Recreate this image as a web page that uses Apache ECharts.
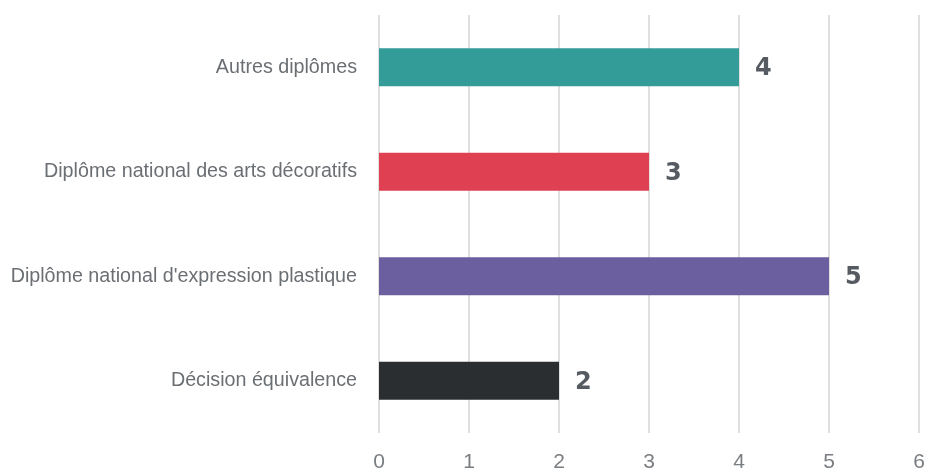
<!DOCTYPE html>
<html>
<head>
<meta charset="utf-8">
<script src="https://cdn.jsdelivr.net/npm/echarts@6/dist/echarts.min.js"></script>
<style>
  html, body { margin: 0; padding: 0; background: #fff; }
  #main { width: 930px; height: 474px; }
</style>
</head>
<body>
<div id="main"></div>
<script>
// categories, bottom to top (as echarts draws a category y axis)
var categories = [
  "Décision équivalence",
  "Diplôme national d'expression plastique",
  "Diplôme national des arts décoratifs",
  "Autres diplômes"
];
var values = [2, 5, 3, 4];
var barColors = ["#2b2e31", "#6b5fa0", "#df4153", "#339c98"];

var myChart = echarts.init(document.getElementById("main"));
var option = {
  animation: false,
  grid: { left: 379, right: 11, top: 15, bottom: 41 },
  xAxis: {
    type: "value",
    min: 0,
    max: 6,
    interval: 1,
    axisLine: { show: false },
    axisTick: { show: false },
    axisLabel: {
      color: "#7a7e82",
      fontFamily: "Liberation Sans",
      fontSize: 21,
      margin: 19
    },
    splitLine: { lineStyle: { color: "#e0e0e0", width: 2 } }
  },
  yAxis: {
    type: "category",
    data: categories,
    axisLine: { show: false },
    axisTick: { show: false },
    axisLabel: {
      color: "#6b6f73",
      fontFamily: "Liberation Sans",
      fontSize: 19.7,
      margin: 22
    }
  },
  series: [
    {
      type: "bar",
      barWidth: 38,
      data: values.map(function (v, i) {
        return { value: v, itemStyle: { color: barColors[i] } };
      }),
      label: {
        show: true,
        position: "right",
        distance: 16,
        color: "#555b61",
        fontFamily: "DejaVu Sans",
        fontWeight: "bold",
        fontSize: 24,
        offset: [0, 2]
      }
    }
  ]
};
myChart.setOption(option);
</script>
</body>
</html>
